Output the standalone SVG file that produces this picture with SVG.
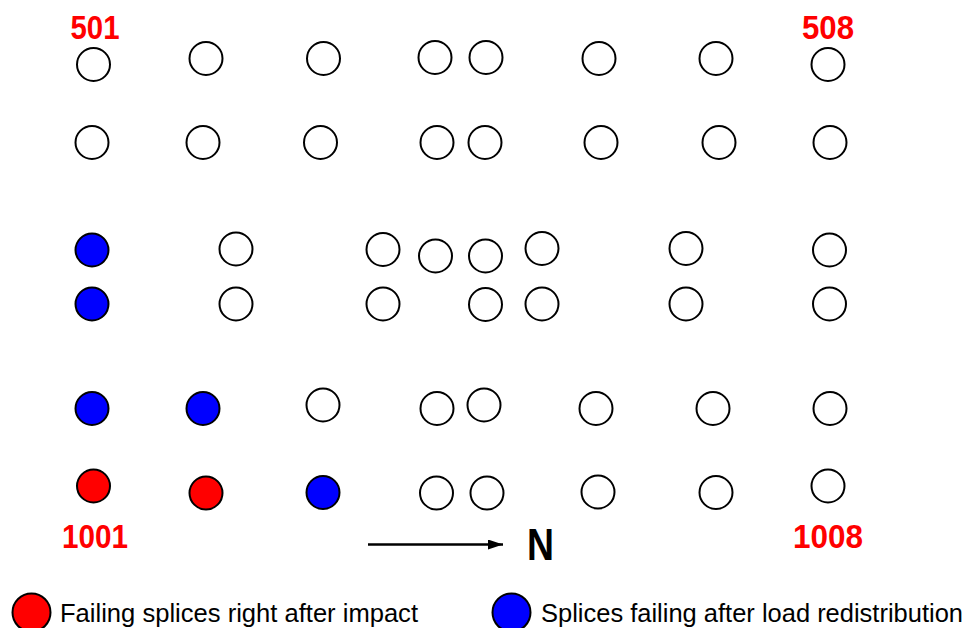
<svg xmlns="http://www.w3.org/2000/svg" width="969" height="628" viewBox="0 0 969 628">
<defs>
<style>
.s{stroke:#000;stroke-width:2;fill:#fff}
.b{fill:#0000ff}
.r{fill:#ff0000}
.lbl{font-family:"Liberation Sans",Arial,sans-serif;font-weight:bold;font-size:33px;fill:#ff0000;text-anchor:middle}
.leg{font-family:"Liberation Sans",Arial,sans-serif;font-size:25px;fill:#000}
</style>
<marker id="ah" viewBox="0 0 10 10" refX="10" refY="5" markerWidth="15" markerHeight="10" markerUnits="userSpaceOnUse" orient="auto" preserveAspectRatio="none">
<path d="M0,0 L10,5 L0,10 Z" fill="#000"/>
</marker>
</defs>
<rect width="969" height="628" fill="#fff"/>
<g id="splices">
<g id="row1">
<circle class="s" cx="93.5" cy="64.5" r="16.5"/>
<circle class="s" cx="206" cy="58.5" r="16.5"/>
<circle class="s" cx="323.5" cy="58.5" r="16.5"/>
<circle class="s" cx="435" cy="57.5" r="16.5"/>
<circle class="s" cx="486" cy="57.5" r="16.5"/>
<circle class="s" cx="599" cy="58.5" r="16.5"/>
<circle class="s" cx="716" cy="58.5" r="16.5"/>
<circle class="s" cx="828" cy="64.5" r="16.5"/>
</g>
<g id="row2">
<circle class="s" cx="92" cy="142.5" r="16.5"/>
<circle class="s" cx="203" cy="142.5" r="16.5"/>
<circle class="s" cx="320.5" cy="142.5" r="16.5"/>
<circle class="s" cx="437" cy="142.5" r="16.5"/>
<circle class="s" cx="485" cy="142.5" r="16.5"/>
<circle class="s" cx="601" cy="142.5" r="16.5"/>
<circle class="s" cx="719" cy="142.5" r="16.5"/>
<circle class="s" cx="830" cy="142.5" r="16.5"/>
</g>
<g id="row3">
<circle class="s b" cx="92" cy="250" r="16.5"/>
<circle class="s" cx="236" cy="249" r="16.5"/>
<circle class="s" cx="383" cy="249.5" r="16.5"/>
<circle class="s" cx="435.5" cy="256" r="16.5"/>
<circle class="s" cx="485.5" cy="256" r="16.5"/>
<circle class="s" cx="542" cy="248.5" r="16.5"/>
<circle class="s" cx="686" cy="248.5" r="16.5"/>
<circle class="s" cx="829.5" cy="250" r="16.5"/>
</g>
<g id="row4">
<circle class="s b" cx="92" cy="304" r="16.5"/>
<circle class="s" cx="236" cy="304" r="16.5"/>
<circle class="s" cx="383" cy="304" r="16.5"/>
<circle class="s" cx="485.5" cy="304.5" r="16.5"/>
<circle class="s" cx="542" cy="304" r="16.5"/>
<circle class="s" cx="686" cy="304" r="16.5"/>
<circle class="s" cx="829.5" cy="304" r="16.5"/>
</g>
<g id="row5">
<circle class="s b" cx="92" cy="408.5" r="16.5"/>
<circle class="s b" cx="203" cy="408.5" r="16.5"/>
<circle class="s" cx="323" cy="405" r="16.5"/>
<circle class="s" cx="437" cy="408.5" r="16.5"/>
<circle class="s" cx="484" cy="405" r="16.5"/>
<circle class="s" cx="596" cy="408.5" r="16.5"/>
<circle class="s" cx="713" cy="408.5" r="16.5"/>
<circle class="s" cx="830" cy="408.5" r="16.5"/>
</g>
<g id="row6">
<circle class="s r" cx="93.5" cy="486" r="16.5"/>
<circle class="s r" cx="206" cy="493" r="16.5"/>
<circle class="s b" cx="323" cy="492.5" r="16.5"/>
<circle class="s" cx="436.5" cy="493" r="16.5"/>
<circle class="s" cx="487" cy="493" r="16.5"/>
<circle class="s" cx="598" cy="492" r="16.5"/>
<circle class="s" cx="716" cy="492.5" r="16.5"/>
<circle class="s" cx="828" cy="486" r="16.5"/>
</g>
</g>
<g id="labels">
<text class="lbl" x="95" y="39" textLength="49" lengthAdjust="spacingAndGlyphs">501</text>
<text class="lbl" x="828" y="39" textLength="52" lengthAdjust="spacingAndGlyphs">508</text>
<text class="lbl" x="95" y="548" textLength="66" lengthAdjust="spacingAndGlyphs">1001</text>
<text class="lbl" x="828" y="548" textLength="70" lengthAdjust="spacingAndGlyphs">1008</text>
</g>
<g id="connectors">
<line x1="368" y1="544.5" x2="503" y2="544.5" stroke="#000" stroke-width="2.5" marker-end="url(#ah)"/>
</g>
<g id="north">
<text x="527" y="560" font-family="'Liberation Sans',Arial,sans-serif" font-weight="bold" font-size="44" textLength="27" lengthAdjust="spacingAndGlyphs">N</text>
</g>
<g id="legend">
<circle class="s r" cx="31.5" cy="612.5" r="19"/>
<text class="leg" x="60" y="622" textLength="358" lengthAdjust="spacingAndGlyphs">Failing splices right after impact</text>
<circle class="s b" cx="511.5" cy="612.5" r="19"/>
<text class="leg" x="541" y="622" textLength="422" lengthAdjust="spacingAndGlyphs">Splices failing after load redistribution</text>
</g>
</svg>
